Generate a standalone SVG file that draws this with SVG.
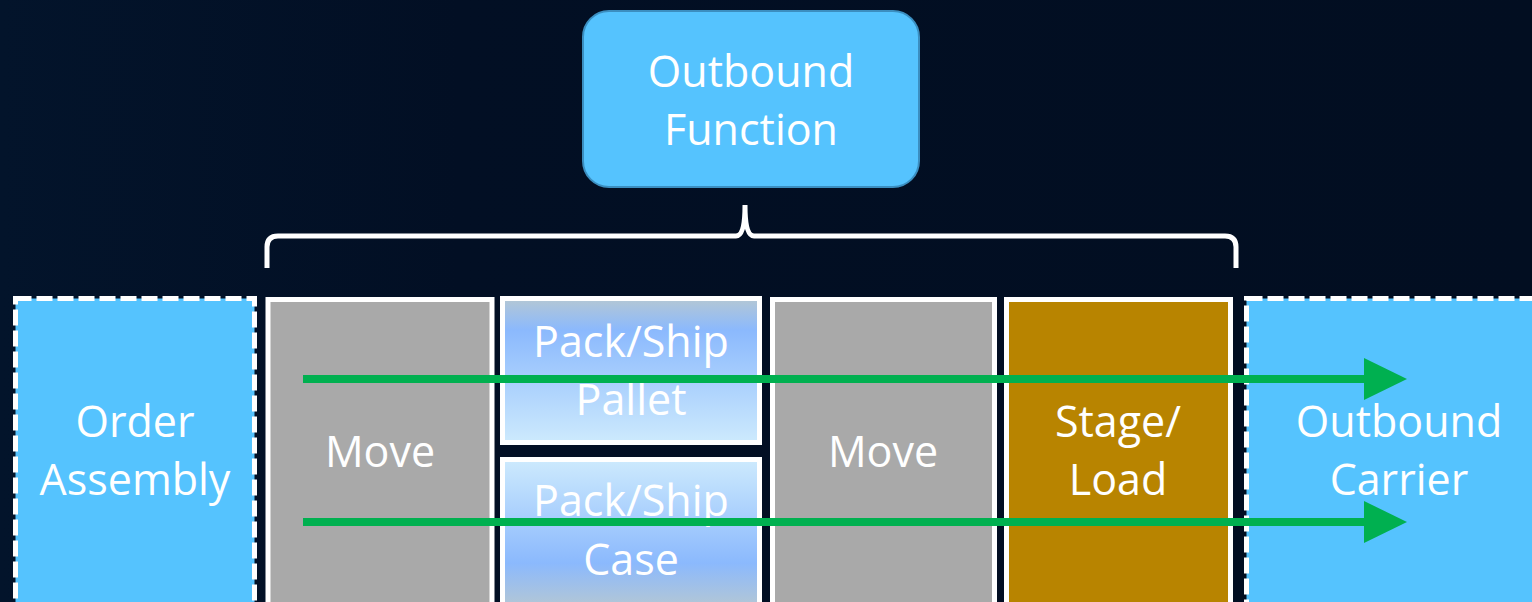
<svg xmlns="http://www.w3.org/2000/svg" width="1532" height="602" viewBox="0 0 1532 602">
  <defs>
    <linearGradient id="bg" x1="0" y1="0" x2="1" y2="0">
      <stop offset="0" stop-color="#03142b"/>
      <stop offset="0.3" stop-color="#020f24"/>
      <stop offset="1" stop-color="#020e21"/>
    </linearGradient>
    <linearGradient id="packTop" x1="0" y1="0" x2="0" y2="1">
      <stop offset="0" stop-color="#b4c7d4"/>
      <stop offset="0.22" stop-color="#8bb9fd"/>
      <stop offset="1" stop-color="#cdeafd"/>
    </linearGradient>
    <linearGradient id="packBottom" x1="0" y1="0" x2="0" y2="1">
      <stop offset="0" stop-color="#cdeafd"/>
      <stop offset="0.7" stop-color="#8bb9fd"/>
      <stop offset="1" stop-color="#b4c7d4"/>
    </linearGradient>
    <marker id="head" markerUnits="userSpaceOnUse" markerWidth="46" markerHeight="44" viewBox="0 0 46 44" refX="2" refY="22" orient="auto">
      <path d="M0,1 L43,22 L0,43 Z" fill="#00b050"/>
    </marker>
  </defs>
  <style>
    .lbl { font-family: "Open Sans", "Liberation Sans", sans-serif; font-size: 43px; fill: #ffffff; text-anchor: middle; }
    .ext { fill: #55c3fe; stroke: #ffffff; stroke-width: 5; stroke-dasharray: 16 5; }
    .step { stroke: #ffffff; stroke-width: 5; }
    .flow { stroke: #00b050; stroke-width: 8; fill: none; marker-end: url(#head); }
  </style>

  <rect width="1532" height="602" fill="url(#bg)"/>

  <g id="outbound-function">
    <rect x="583" y="11" width="336" height="176" rx="26" fill="#55c3fe" stroke="#3b8ec0" stroke-width="2"/>
    <text class="lbl" x="751" y="87">Outbound</text>
    <text class="lbl" x="751" y="145">Function</text>
  </g>

  <g id="brace">
    <path d="M267,268 L267,247 Q267,236 278,236 L736,236 Q745,236 745,205 Q745,236 754,236 L1225,236 Q1236,236 1236,247 L1236,268" fill="none" stroke="#ffffff" stroke-width="5"/>
  </g>

  <g id="order-assembly">
    <rect class="ext" x="15.5" y="298.5" width="239" height="310"/>
    <text class="lbl" x="135" y="437">Order</text>
    <text class="lbl" x="135" y="495">Assembly</text>
  </g>

  <g id="move-1">
    <rect class="step" x="268" y="299.5" width="224" height="310" fill="#a9a9a9"/>
    <text class="lbl" x="380" y="467">Move</text>
  </g>

  <g id="pack-ship-pallet">
    <rect class="step" x="502.5" y="298.5" width="257" height="144" fill="url(#packTop)"/>
    <text class="lbl" x="631" y="357">Pack/Ship</text>
    <text class="lbl" x="631" y="415">Pallet</text>
  </g>

  <g id="pack-ship-case">
    <rect class="step" x="502.5" y="459.5" width="257" height="148" fill="url(#packBottom)"/>
    <text class="lbl" x="631" y="516">Pack/Ship</text>
    <text class="lbl" x="631" y="575">Case</text>
  </g>

  <g id="move-2">
    <rect class="step" x="772.5" y="299.5" width="222" height="310" fill="#a9a9a9"/>
    <text class="lbl" x="883" y="467">Move</text>
  </g>

  <g id="stage-load">
    <rect class="step" x="1006.5" y="299.5" width="224" height="310" fill="#b88400"/>
    <text class="lbl" x="1118" y="437">Stage/</text>
    <text class="lbl" x="1118" y="495">Load</text>
  </g>

  <g id="outbound-carrier">
    <rect class="ext" x="1246.5" y="298.5" width="300" height="310"/>
    <text class="lbl" x="1399" y="437">Outbound</text>
    <text class="lbl" x="1399" y="495">Carrier</text>
  </g>

  <g id="connectors">
    <line class="flow" x1="303" y1="379" x2="1366" y2="379"/>
    <line class="flow" x1="303" y1="522" x2="1366" y2="522"/>
  </g>
</svg>
